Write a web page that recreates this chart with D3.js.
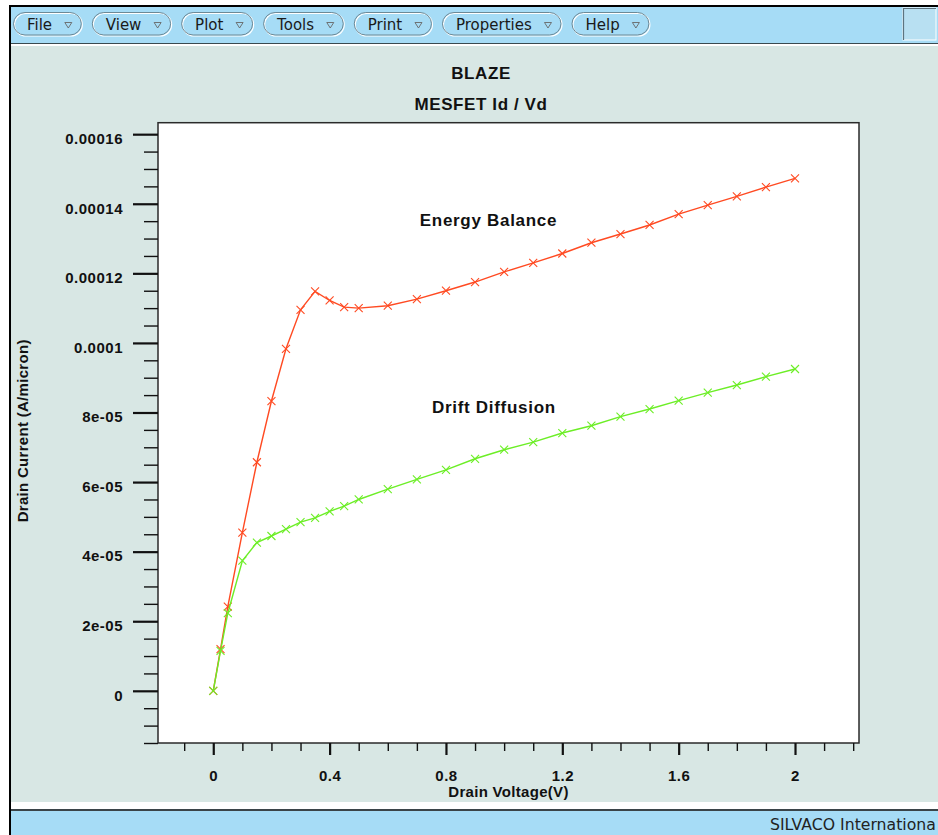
<!DOCTYPE html>
<html><head><meta charset="utf-8">
<script src="https://cdn.jsdelivr.net/npm/d3@7"></script>
<style>
body{margin:0;background:#fff;overflow:hidden}
svg{display:block}
</style>
</head><body>
<script>
// ---------- data ----------
const voltage = [0, 0.025, 0.05, 0.1, 0.15, 0.2, 0.25, 0.3, 0.35, 0.4, 0.45, 0.5,
  0.6, 0.7, 0.8, 0.9, 1.0, 1.1, 1.2, 1.3, 1.4, 1.5, 1.6, 1.7, 1.8, 1.9, 2.0];
const energyBalance = [0, 1.20e-5, 2.42e-5, 4.55e-5, 6.57e-5, 8.33e-5, 9.83e-5, 1.095e-4, 1.148e-4,
  1.122e-4, 1.103e-4, 1.100e-4, 1.107e-4, 1.126e-4, 1.150e-4, 1.175e-4, 1.204e-4, 1.230e-4,
  1.257e-4, 1.288e-4, 1.313e-4, 1.339e-4, 1.370e-4, 1.396e-4, 1.421e-4, 1.448e-4, 1.473e-4];
const driftDiffusion = [0, 1.15e-5, 2.23e-5, 3.74e-5, 4.26e-5, 4.45e-5, 4.65e-5, 4.85e-5, 4.97e-5,
  5.16e-5, 5.31e-5, 5.50e-5, 5.80e-5, 6.08e-5, 6.35e-5, 6.67e-5, 6.93e-5, 7.15e-5,
  7.41e-5, 7.62e-5, 7.88e-5, 8.10e-5, 8.34e-5, 8.57e-5, 8.79e-5, 9.03e-5, 9.25e-5];
const seriesNames = ["Energy Balance", "Drift Diffusion"];
const seriesLabelAt = [[0.71, 1.337e-4], [0.752, 7.99e-5]];
const yMajorTicks = [0, 2e-5, 4e-5, 6e-5, 8e-5, 1e-4, 1.2e-4, 1.4e-4, 1.6e-4];
const yTickLabels = ["0", "2e-05", "4e-05", "6e-05", "8e-05", "0.0001", "0.00012", "0.00014", "0.00016"];
const xMajorTicks = [0, 0.4, 0.8, 1.2, 1.6, 2];
const xTickLabels = ["0", "0.4", "0.8", "1.2", "1.6", "2"];
const xDomain = [-0.19, 2.22];
const yDomain = [-1.5e-5, 1.633e-4];
const menuItems = ["File", "View", "Plot", "Tools", "Print", "Properties", "Help"];
const titleText = "BLAZE";
const subtitleText = "MESFET Id / Vd";
const xTitle = "Drain Voltage(V)";
const yTitle = "Drain Current (A/micron)";
const statusText = "SILVACO Internationa";

// ---------- layout ----------
const W = 938, H = 835;
const panelBg = "#d8e7e4", barBg = "#a6dcf6";
const redC = "#ff4a22", greenC = "#6cee26";
const boldFont = "'Liberation Sans', Arial, Helvetica, sans-serif";
const uiFont = "'DejaVu Sans', sans-serif";

const svg = d3.select("body").append("svg").attr("width", W).attr("height", H);

// window chrome
svg.append("rect").attr("x", 0).attr("y", 0).attr("width", W).attr("height", H).attr("fill", "#fff");
svg.append("rect").attr("x", 11).attr("y", 7).attr("width", W - 11).attr("height", 36).attr("fill", barBg);
svg.append("rect").attr("x", 9).attr("y", 5).attr("width", W - 9).attr("height", 2).attr("fill", "#000");
svg.append("rect").attr("x", 9).attr("y", 5).attr("width", 2).attr("height", H - 5).attr("fill", "#000");
svg.append("rect").attr("x", 11).attr("y", 43).attr("width", W - 11).attr("height", 1).attr("fill", "#3a4a50");
svg.append("rect").attr("x", 11).attr("y", 46).attr("width", W - 11).attr("height", 756).attr("fill", panelBg);
svg.append("rect").attr("x", 11).attr("y", 809).attr("width", W - 11).attr("height", 2).attr("fill", "#3a4448");
svg.append("rect").attr("x", 11).attr("y", 811).attr("width", W - 11).attr("height", H - 811).attr("fill", barBg);

// menu buttons
let bx = 14;
menuItems.forEach(name => {
  const g = svg.append("g");
  const t = g.append("text").attr("x", bx + 13).attr("y", 30)
    .attr("font-family", uiFont).attr("font-size", 15).attr("fill", "#1a1a1a").text(name);
  const tw = t.node().getComputedTextLength();
  const bw = 13 + tw + 12.7 + 7 + 10;
  g.insert("rect", "text").attr("x", bx + 0.5).attr("y", 13.5).attr("width", bw).attr("height", 22.5)
    .attr("rx", 11.5).attr("fill", "none").attr("stroke", "#ffffff").attr("stroke-width", 1.2);
  g.insert("rect", "text").attr("x", bx - 0.5).attr("y", 12.5).attr("width", bw).attr("height", 22.5)
    .attr("rx", 11.5).attr("fill", "none").attr("stroke", "#6d8996").attr("stroke-width", 1);
  const tx = bx + 13 + tw + 12.7;
  g.append("path").attr("d", `M${tx},22.5 L${tx + 7},22.5 L${tx + 3.5},28 Z`)
    .attr("fill", "none").attr("stroke", "#666").attr("stroke-width", 0.9);
  bx += bw + 11;
});
// right box
svg.append("rect").attr("x", 903).attr("y", 8).attr("width", 33).attr("height", 32).attr("fill", "#b8e0f2")
  .attr("stroke", "#fff").attr("stroke-width", 1);
svg.append("path").attr("d", "M903.5,40 L903.5,8.5 L936,8.5").attr("fill", "none").attr("stroke", "#5d7480").attr("stroke-width", 1.2);

// status bar text
svg.append("text").attr("x", 770).attr("y", 830).attr("font-family", uiFont).attr("font-size", 15.7)
  .attr("fill", "#222").text(statusText);

// ---------- plot ----------
const x = d3.scaleLinear().domain(xDomain).range([158, 859]);
const y = d3.scaleLinear().domain(yDomain).range([743, 122.7]);

svg.append("rect").attr("x", x.range()[0]).attr("y", y.range()[1])
  .attr("width", x.range()[1] - x.range()[0]).attr("height", y.range()[0] - y.range()[1])
  .attr("fill", "#fff").attr("stroke", "#2a2a2a").attr("stroke-width", 1.5);

// minor ticks
const yMinor = d3.range(-3, 33).filter(i => i % 4 !== 0).map(i => i * 5e-6);
const xMinor = d3.range(-1, 23).filter(i => i % 4 !== 0).map(i => i * 0.1);

const yMinorAxis = d3.axisLeft(y).tickValues(yMinor).tickSize(14).tickFormat("");
const yMajorAxis = d3.axisLeft(y).tickValues(yMajorTicks).tickSize(25).tickPadding(10)
  .tickFormat((d, i) => yTickLabels[i]);
const xMinorAxis = d3.axisBottom(x).tickValues(xMinor).tickSize(8).tickFormat("");
const xMajorAxis = d3.axisBottom(x).tickValues(xMajorTicks).tickSize(12)
  .tickFormat((d, i) => xTickLabels[i]);

function styleAxis(g, w) {
  g.select(".domain").remove();
  g.selectAll(".tick line").attr("stroke", "#111").attr("stroke-width", w);
  g.selectAll("text").attr("font-family", boldFont).attr("font-weight", "bold")
    .attr("font-size", 15).attr("fill", "#111").attr("letter-spacing", 0.5);
}
svg.append("g").attr("transform", `translate(${x.range()[0]},0)`).call(yMinorAxis).call(g => styleAxis(g, 1.4));
svg.append("g").attr("transform", `translate(${x.range()[0]},0)`).call(yMajorAxis).call(g => styleAxis(g, 2.2))
  .selectAll("text").attr("dy", "0.62em");
svg.append("g").attr("transform", `translate(0,${y.range()[0]})`).call(xMinorAxis).call(g => styleAxis(g, 1.4));
svg.append("g").attr("transform", `translate(0,${y.range()[0]})`).call(xMajorAxis).call(g => styleAxis(g, 2.2))
  .selectAll("text").attr("y", 38).attr("dy", 0);

// axis titles
const plotCx = (x.range()[0] + x.range()[1]) / 2;
svg.append("text").attr("x", plotCx).attr("y", 797).attr("text-anchor", "middle")
  .attr("font-family", boldFont).attr("font-weight", "bold").attr("font-size", 15)
  .attr("letter-spacing", 0.3).attr("fill", "#111").text(xTitle);
const plotCy = (y.range()[0] + y.range()[1]) / 2;
svg.append("text").attr("transform", `translate(28,${plotCy - 2}) rotate(-90)`).attr("text-anchor", "middle")
  .attr("font-family", boldFont).attr("font-weight", "bold").attr("font-size", 15)
  .attr("letter-spacing", 0.3).attr("fill", "#111").text(yTitle);

// titles
svg.append("text").attr("x", 481).attr("y", 79).attr("text-anchor", "middle")
  .attr("font-family", boldFont).attr("font-weight", "bold").attr("font-size", 17)
  .attr("letter-spacing", 0.6).attr("fill", "#111").text(titleText);
svg.append("text").attr("x", 481).attr("y", 110).attr("text-anchor", "middle")
  .attr("font-family", boldFont).attr("font-weight", "bold").attr("font-size", 17)
  .attr("letter-spacing", 0.6).attr("fill", "#111").text(subtitleText);

// series
const series = [
  { name: seriesNames[0], values: energyBalance, color: redC },
  { name: seriesNames[1], values: driftDiffusion, color: greenC }
];
const line = d3.line().x(d => x(d[0])).y(d => y(d[1]));
series.forEach((s, si) => {
  const pts = voltage.map((v, i) => [v, s.values[i]]);
  svg.append("path").datum(pts).attr("d", line).attr("fill", "none")
    .attr("stroke", s.color).attr("stroke-width", 1.4);
  svg.append("g").selectAll("path").data(pts).join("path")
    .attr("d", d => {
      const cx = x(d[0]), cy = y(d[1]), r = 4;
      return `M${cx - r},${cy - r}L${cx + r},${cy + r}M${cx - r},${cy + r}L${cx + r},${cy - r}`;
    })
    .attr("stroke", s.color).attr("stroke-width", 1.1).attr("fill", "none");
  svg.append("text").attr("x", x(seriesLabelAt[si][0])).attr("y", y(seriesLabelAt[si][1]))
    .attr("font-family", boldFont).attr("font-weight", "bold").attr("font-size", 17)
    .attr("letter-spacing", 0.7).attr("fill", "#111").text(s.name);
});
</script>
</body></html>
